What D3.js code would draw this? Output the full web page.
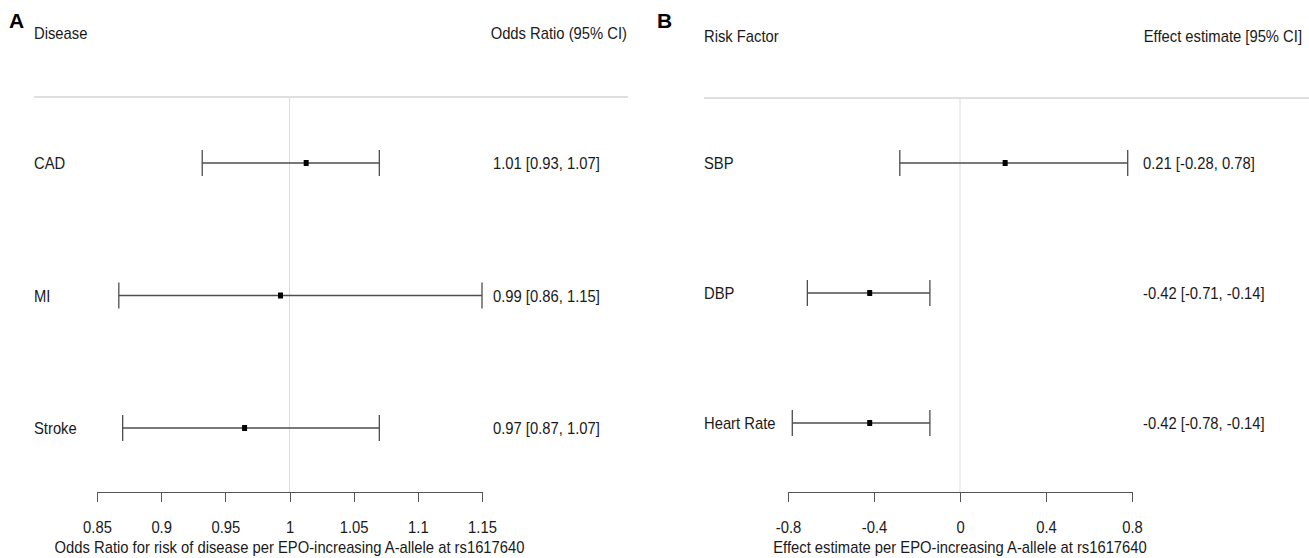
<!DOCTYPE html>
<html>
	<head>
		<title>Forest plots rs1617640</title>
		<meta charset='UTF-8' />
		<style>
			body {
				margin: 0;
				background: #ffffff;
			}
			text {
				font-family: 'Liberation Sans Narrow', 'Arial Narrow', 'Liberation Sans', sans-serif;
				font-size: 17px;
				fill: #1a1a1a;
			}
			.axis path, .axis line {
				fill: none;
				stroke: #555555;
				stroke-width: 1px;
				shape-rendering: crispEdges;
			}
			.axis text {
				font-family: 'Liberation Sans Narrow', 'Arial Narrow', 'Liberation Sans', sans-serif;
				font-size: 17px;
				fill: #1a1a1a;
			}
			.panel-letter {
				font-family: 'Liberation Sans', Arial, sans-serif;
				font-weight: bold;
				font-size: 21px;
				fill: #000000;
			}
		</style>
	</head>

	<body>
	<script src='https://d3js.org/d3.v7.min.js'></script>

	<script>
	'use strict';
	// panel A: disease outcomes (odds ratios)
	const diseases = ['CAD', 'MI', 'Stroke'];
	const orEstimate = [1.013, 0.993, 0.965];
	const orLower = [0.932, 0.867, 0.870];
	const orUpper = [1.070, 1.150, 1.070];
	const orLabels = ['1.01 [0.93, 1.07]', '0.99 [0.86, 1.15]', '0.97 [0.87, 1.07]'];
	const orTicks = [0.85, 0.9, 0.95, 1, 1.05, 1.1, 1.15];

	// panel B: risk factors (effect estimates)
	const riskFactors = ['SBP', 'DBP', 'Heart Rate'];
	const effEstimate = [0.21, -0.42, -0.42];
	const effLower = [-0.28, -0.71, -0.78];
	const effUpper = [0.78, -0.14, -0.14];
	const effLabels = ['0.21 [-0.28, 0.78]', '-0.42 [-0.71, -0.14]', '-0.42 [-0.78, -0.14]'];
	const effTicks = [-0.8, -0.4, 0, 0.4, 0.8];

	const W = 1309, H = 558;
	const narrow = 0.87; // squeeze text to look like the condensed font of the original

	const svg = d3.select('body').append('svg')
		.attr('width', W)
		.attr('height', H);

	function label(parent, x, y, str, anchor) {
		return parent.append('text')
			.attr('transform', 'translate(' + x + ',' + y + ') scale(' + narrow + ',1)')
			.attr('text-anchor', anchor || 'start')
			.text(str);
	}

	function forest(opt) {
		const g = svg.append('g');
		const rows = opt.names.map(function(n, i) {
			return {name: n, est: opt.est[i], lo: opt.lo[i], hi: opt.hi[i], label: opt.labels[i]};
		});

		const x = d3.scaleLinear().domain(opt.xDomain).range(opt.xRange);
		const y = d3.scaleLinear().domain([0, rows.length - 1]).range(opt.yRange);

		// panel letter and headers
		g.append('text').attr('class', 'panel-letter')
			.attr('x', opt.letterX).attr('y', 28).text(opt.letter);
		label(g, opt.nameX, opt.headY, opt.nameHead);
		label(g, opt.headRight, opt.headY, opt.valueHead, 'end');

		// header rule
		g.append('line')
			.attr('x1', opt.ruleX[0]).attr('x2', opt.ruleX[1])
			.attr('y1', opt.ruleY).attr('y2', opt.ruleY)
			.attr('stroke', '#d4d4d4').attr('stroke-width', 1.5);

		// null reference line
		g.append('line')
			.attr('x1', x(opt.nullValue)).attr('x2', x(opt.nullValue))
			.attr('y1', opt.ruleY).attr('y2', opt.axisY)
			.attr('stroke', '#dcdcdc').attr('stroke-width', 1);

		// x axis
		const ax = g.append('g')
			.attr('class', 'axis')
			.attr('transform', 'translate(0,' + opt.axisY + ')')
			.call(d3.axisBottom(x)
				.tickValues(opt.ticks)
				.tickSize(10)
				.tickSizeOuter(0)
				.tickPadding(19)
				.tickFormat(function(d) { return String(d); }));
		ax.selectAll('.tick text')
			.attr('transform', 'scale(' + narrow + ',1)');

		label(g, (opt.xRange[0] + opt.xRange[1]) / 2, 553, opt.axisTitle, 'middle');

		const row = g.selectAll('g.row')
			.data(rows)
			.enter().append('g')
			.attr('class', 'row')
			.attr('transform', function(d, i) { return 'translate(0,' + y(i) + ')'; });

		row.each(function(d) {
			label(d3.select(this), opt.nameX, 0, d.name).attr('dy', '0.36em');
			label(d3.select(this), opt.valueX, 0, d.label).attr('dy', '0.36em');
		});

		row.append('line')
			.attr('x1', function(d) { return x(d.lo); })
			.attr('x2', function(d) { return x(d.hi); })
			.attr('stroke', '#4d4d4d').attr('stroke-width', 1.3);

		row.append('line')
			.attr('x1', function(d) { return x(d.lo); })
			.attr('x2', function(d) { return x(d.lo); })
			.attr('y1', -13).attr('y2', 13)
			.attr('stroke', '#4d4d4d').attr('stroke-width', 1.3);

		row.append('line')
			.attr('x1', function(d) { return x(d.hi); })
			.attr('x2', function(d) { return x(d.hi); })
			.attr('y1', -13).attr('y2', 13)
			.attr('stroke', '#4d4d4d').attr('stroke-width', 1.3);

		row.append('rect')
			.attr('x', function(d) { return x(d.est) - 2.5; })
			.attr('y', -3)
			.attr('width', 5).attr('height', 6)
			.attr('fill', '#000000');
	}

	forest({
		letter: 'A', letterX: 9,
		names: diseases, est: orEstimate, lo: orLower, hi: orUpper, labels: orLabels,
		ticks: orTicks, xDomain: [0.85, 1.15], xRange: [97, 482], nullValue: 1,
		yRange: [163, 428],
		nameX: 34, valueX: 493, headY: 39, headRight: 627,
		nameHead: 'Disease', valueHead: 'Odds Ratio (95% CI)',
		ruleX: [34, 628], ruleY: 97, axisY: 492,
		axisTitle: 'Odds Ratio for risk of disease per EPO-increasing A-allele at rs1617640'
	});

	forest({
		letter: 'B', letterX: 657,
		names: riskFactors, est: effEstimate, lo: effLower, hi: effUpper, labels: effLabels,
		ticks: effTicks, xDomain: [-0.8, 0.8], xRange: [788, 1132], nullValue: 0,
		yRange: [163, 423],
		nameX: 704, valueX: 1143, headY: 42, headRight: 1302,
		nameHead: 'Risk Factor', valueHead: 'Effect estimate [95% CI]',
		ruleX: [704, 1309], ruleY: 98, axisY: 492,
		axisTitle: 'Effect estimate per EPO-increasing A-allele at rs1617640'
	});
	</script>
</body>
</html>
